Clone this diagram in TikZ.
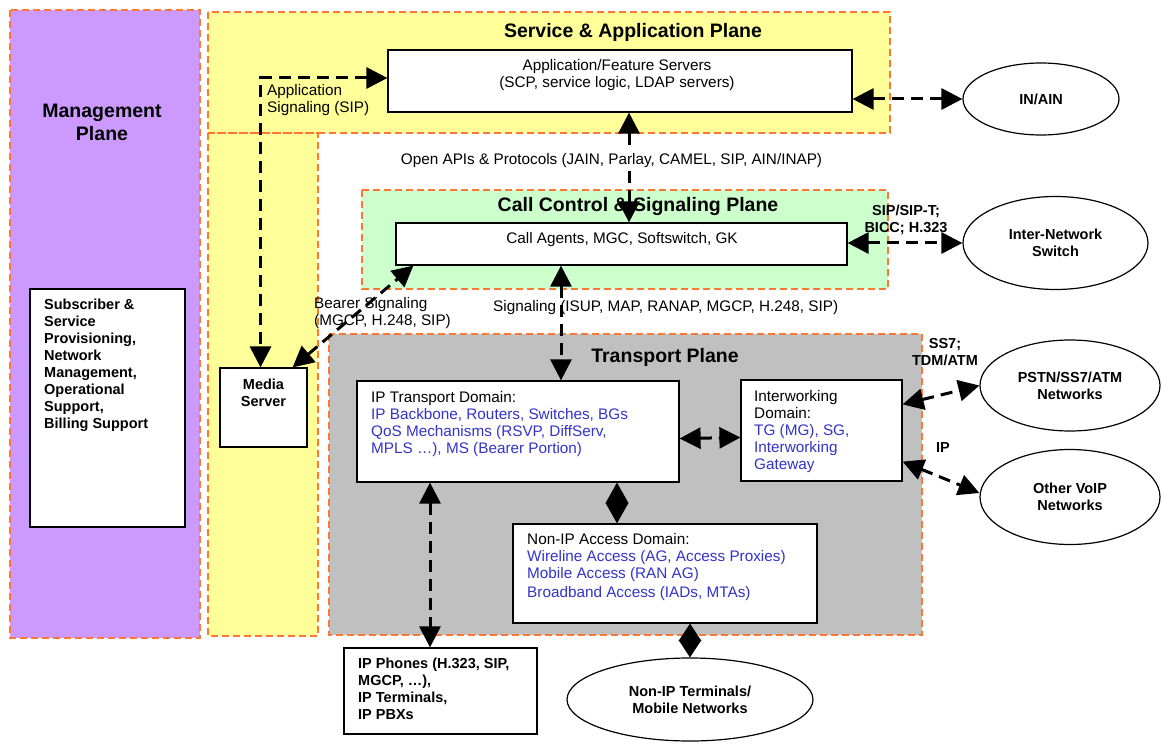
\documentclass[tikz,border=0pt]{standalone}
\usepackage{fontspec}
\setmainfont{Liberation Sans}
\usetikzlibrary{arrows.meta,shapes.geometric,calc}

\definecolor{mgmtpurple}{HTML}{CC99FF}
\definecolor{svcyellow}{HTML}{FFFF99}
\definecolor{ctrlgreen}{HTML}{CCFFCC}
\definecolor{transgray}{HTML}{C0C0C0}
\definecolor{planeorange}{HTML}{FF7733}
\definecolor{itemblue}{HTML}{3333CC}

\newcommand{\normtxt}{\fontsize{15.3}{17}\selectfont}
\newcommand{\boldtxt}{\bfseries\fontsize{14.5}{17}\selectfont}

\tikzset{
  plane/.style={draw=planeorange, line width=1.6pt, dash pattern=on 7pt off 4pt},
  box/.style={draw=black, fill=white, line width=1.2pt, inner sep=0pt},
  cloud/.style={ellipse, draw=black, fill=white, line width=1.2pt, inner sep=0pt,
    align=center, font=\boldtxt},
  title/.style={font=\bfseries\fontsize{19.5}{23}\selectfont, inner sep=0pt},
  boxtext/.style={anchor=north west, align=left, inner sep=0pt, font=\normtxt},
  link/.style={line width=3pt, dash pattern=on 12pt off 7pt,
    arrows={Triangle[length=21pt,width=21pt]-Triangle[length=21pt,width=21pt]}},
  solidlink/.style={line width=3pt,
    arrows={Triangle[length=#1,width=23pt,line width=0pt]-Triangle[length=#1,width=23pt,line width=0pt]}},
  solidlink/.default=20pt
}

\begin{document}
\begin{tikzpicture}[x=1pt, y=-1pt]
    \useasboundingbox (0,0) rectangle (1162,746);
    \fill[white] (0,0) rectangle (1162,746);

    % Management plane
    \filldraw[plane, fill=mgmtpurple] (10,10) rectangle (200,638);
    \node[title, align=center] (mgmttitle) at (102,122) {Management\\Plane};
    \node[box, minimum width=155pt, minimum height=238pt] (prov) at (107.5,408) {};
    \node[boxtext, font=\boldtxt] (provtext) at (44,299)
        {Subscriber \&\\Service\\Provisioning,\\Network\\Management,\\Operational\\Support,\\Billing Support};

    % Service & application plane: top band plus left column
    \fill[svcyellow] (208,12) rectangle (890,133);
    \fill[svcyellow] (208,133) rectangle (318,636);
    \draw[plane] (208,12) rectangle (890,133);
    \draw[plane] (208,133) rectangle (318,636);
    \node[title] (svctitle) at (633,32) {Service \& Application Plane};
    \node[box, minimum width=464pt, minimum height=62pt] (afs) at (620,81) {};
    \node[align=center, inner sep=0pt, font=\normtxt] (afstext) at (617,75)
        {Application/Feature Servers\\(SCP, service logic, LDAP servers)};
    \node[box, minimum width=87pt, minimum height=79pt] (ms) at (263.5,407.5) {};
    \node[align=center, inner sep=0pt, font=\boldtxt] (mstext) at (263.5,393) {Media\\Server};

    % Call control & signaling plane
    \filldraw[plane, fill=ctrlgreen] (362,190) rectangle (888,289);
    \node[title] (ctrltitle) at (638,207) {Call Control \& Signaling Plane};
    \node[box, minimum width=451pt, minimum height=42pt] (ca) at (621.5,244) {};
    \node[inner sep=0pt, font=\normtxt] (catext) at (622,240) {Call Agents, MGC, Softswitch, GK};

    % Transport plane
    \filldraw[plane, fill=transgray] (329,334) rectangle (922,635);
    \node[title] (transtitle) at (665,357) {Transport Plane};
    \node[box, minimum width=322pt, minimum height=101pt] (ipt) at (518,431.5) {};
    \node[boxtext] (ipttext) at (371,391)
        {IP Transport Domain:\\
         \textcolor{itemblue}{IP Backbone, Routers, Switches, BGs}\\
         \textcolor{itemblue}{QoS Mechanisms (RSVP, DiffServ,}\\
         \textcolor{itemblue}{MPLS \ldots), MS (Bearer Portion)}};
    \node[box, minimum width=161pt, minimum height=101pt] (iw) at (821.5,430.5) {};
    \node[boxtext] (iwtext) at (754,390)
        {Interworking\\Domain:\\
         \textcolor{itemblue}{TG (MG), SG,}\\
         \textcolor{itemblue}{Interworking}\\
         \textcolor{itemblue}{Gateway}};
    \node[box, minimum width=304pt, minimum height=99pt] (nia) at (665,573.5) {};
    \node[boxtext] (niatext) at (527,533)
        {Non-IP Access Domain:\\
         \textcolor{itemblue}{Wireline Access (AG, Access Proxies)}\\
         \textcolor{itemblue}{Mobile Access (RAN AG)}\\[2pt]
         \textcolor{itemblue}{Broadband Access (IADs, MTAs)}};

    % Outside the planes
    \node[box, minimum width=193pt, minimum height=86pt] (ipp) at (440.5,691) {};
    \node[boxtext, font=\boldtxt] (ipptext) at (358,658)
        {IP Phones (H.323, SIP,\\MGCP, \ldots),\\IP Terminals,\\IP PBXs};
    \node[cloud, minimum width=156pt, minimum height=72pt] (inain) at (1041,99) {IN/AIN};
    \node[cloud, minimum width=185pt, minimum height=93pt] (ins) at (1055.5,243) {Inter-Network\\Switch};
    \node[cloud, minimum width=180pt, minimum height=91pt] (pstn) at (1070,385.5) {PSTN/SS7/ATM\\Networks};
    \node[cloud, minimum width=180pt, minimum height=95pt] (voip) at (1070,497) {Other VoIP\\Networks};
    \node[cloud, minimum width=246pt, minimum height=83pt] (nit) at (690,699.5) {Non-IP Terminals/\\Mobile Networks};

    % Signaling connectors
    \coordinate (apiline) at (629,0);
    \coordinate (sigline) at (561,0);
    \coordinate (ippline) at (430,0);
    \coordinate (nialine) at (617,0);

    \draw[link] ([yshift=3pt]afs.west) -| ([xshift=-3pt]ms.north);
    \node[boxtext] (appsig) at (267,84) {Application\\Signaling (SIP)};

    \draw[link] (afs.south -| apiline) -- (ca.north -| apiline);
    \node[font=\normtxt, fill=white, inner sep=2pt] (apis) at (611.5,161)
        {Open APIs \& Protocols (JAIN, Parlay, CAMEL, SIP, AIN/INAP)};

    \draw[link] (afs.east |- inain.west) -- (inain.west);
    \draw[link] (ca.east |- ins.west) -- (ins.west);
    \node[align=center, inner sep=0pt, font=\boldtxt] (sipt) at (906,220) {SIP/SIP-T;\\BICC; H.323};

    \node[boxtext] (bearer) at (314,297) {Bearer Signaling\\(MGCP, H.248, SIP)};
    \draw[link] ([xshift=-15pt]ms.north east) -- ([xshift=18pt]ca.south west);

    \node[anchor=west, inner sep=0pt, font=\normtxt] (sig) at (493,308)
        {Signaling (ISUP, MAP, RANAP, MGCP, H.248, SIP)};
    \draw[link] (ca.south -| sigline) -- (ipt.north -| sigline);

    % Transport connectors (41pt and 35pt long: tips meet as a diamond)
    \draw[link] ([yshift=-7pt]ipt.east) -- ([yshift=-7pt]iw.west);
    \draw[link] (ipt.south -| ippline) -- (ipp.north -| ippline);
    \draw[solidlink=20.5pt] (ipt.south -| nialine) -- (nia.north -| nialine);
    \draw[solidlink=17.5pt] (nia.south -| nit.north) -- (nit.north);

    \draw[link] ([yshift=-25pt]iw.north east) -- (pstn.west);
    \draw[link] ([yshift=20pt]iw.south east) -- ([yshift=4pt]voip.west);
    \node[align=center, inner sep=0pt, font=\boldtxt] (ss7) at (945,352) {SS7;\\TDM/ATM};
    \node[inner sep=0pt, font=\boldtxt] (iplbl) at (943,448) {IP};
\end{tikzpicture}
\end{document}
